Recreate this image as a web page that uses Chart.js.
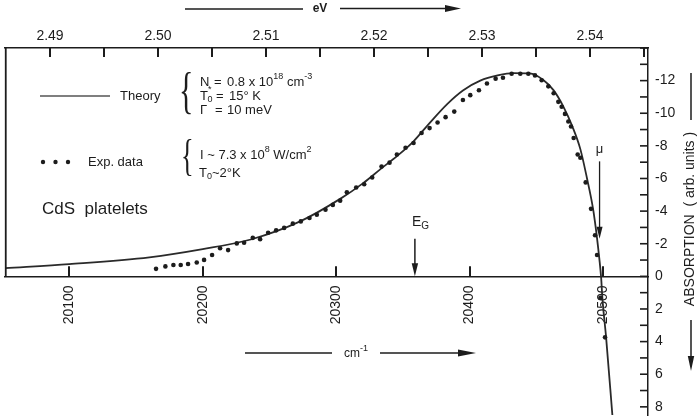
<!DOCTYPE html>
<html><head><meta charset="utf-8">
<script src="https://cdn.jsdelivr.net/npm/chart.js@4.4.1/dist/chart.umd.min.js"></script>
<style>html,body{margin:0;padding:0;background:#fff;}#wrap{width:700px;height:419px;}</style>
</head><body><div id="wrap"><canvas id="c" width="700" height="419"></canvas></div>
<script>
// ---- data ----
const theoryX = [20052,20100,20160,20200,20236,20273,20303,20320,20333,20346,20358,20370,20383,20395,20408,20421,20433,20445,20455,20463,20470,20477,20483,20488,20492.5,20495.5,20497.2,20498.6,20499.5,20502.3,20507];
const theoryY = [-0.50,-0.75,-1.17,-1.67,-2.26,-3.37,-4.75,-5.70,-6.56,-7.40,-8.28,-9.40,-10.55,-11.40,-12.00,-12.32,-12.46,-12.44,-12.05,-11.40,-10.45,-9.19,-7.80,-6.00,-4.15,-2.35,-1.10,0.10,1.32,3.74,8.50];
const expX = [20165,20172,20178,20183.5,20189,20195.5,20201,20207,20213,20219,20225.5,20231,20237.5,20243,20249,20255,20261,20267.5,20273.5,20280,20285.5,20292,20297.5,20303,20308,20315,20321,20327,20334,20340,20345.5,20352,20358,20364,20370,20376,20382,20388.5,20395,20400.5,20407,20413,20419.5,20425,20431.5,20438,20444,20449,20454,20459,20463,20466.5,20469,20471.5,20474,20476,20478,20481,20483,20487,20491,20494,20495.5,20498,20501.5];
const expY = [-0.46,-0.61,-0.70,-0.70,-0.76,-0.85,-1.01,-1.31,-1.72,-1.61,-2.02,-2.06,-2.36,-2.28,-2.67,-2.82,-2.97,-3.23,-3.37,-3.58,-3.78,-4.08,-4.38,-4.64,-5.15,-5.45,-5.65,-6.06,-6.73,-6.97,-7.47,-7.88,-8.18,-8.79,-9.09,-9.43,-9.76,-10.10,-10.81,-11.11,-11.41,-11.82,-12.12,-12.18,-12.42,-12.42,-12.42,-12.32,-12.02,-11.65,-11.23,-10.70,-10.40,-9.96,-9.49,-9.19,-8.48,-7.47,-7.27,-5.76,-4.14,-2.52,-1.31,1.32,3.74];
const cmTickValues = [20100,20200,20300,20400,20500];
const evTickValues = [2.49,2.495,2.50,2.505,2.51,2.515,2.52,2.525,2.53,2.535,2.54,2.545];
const absTickValues = [-14,-13,-12,-11,-10,-9,-8,-7,-6,-5,-4,-3,-2,-1,0,1,2,3,4,5,6,7,8];
const X_MIN = 20051.8, X_MAX = 20533.7;
const EV_MIN = 2.48583, EV_MAX = 2.54537;
const Y_MIN = -14, Y_MAX = 8.5;
// annotation markers (E_G and mu arrows)
const egAt = 20359, egFrom = -2.3, egTo = 0;
const muAt = 20497.4, muFrom = -7.05, muTo = -2.3;

const FONT = '"Liberation Sans", Arial, Helvetica, sans-serif';
const INK = '#1c1c1c';

function zeroPad(s){ s.paddingLeft = 0; s.paddingRight = 0; s.paddingTop = 0; s.paddingBottom = 0; }

function line(ctx,x1,y1,x2,y2){ ctx.beginPath(); ctx.moveTo(x1,y1); ctx.lineTo(x2,y2); ctx.stroke(); }
function headRight(ctx,x,y,len,half){ ctx.beginPath(); ctx.moveTo(x,y); ctx.lineTo(x-len,y-half); ctx.lineTo(x-len,y+half); ctx.closePath(); ctx.fill(); }
function headDown(ctx,x,y,len,half){ ctx.beginPath(); ctx.moveTo(x,y); ctx.lineTo(x-half,y-len); ctx.lineTo(x+half,y-len); ctx.closePath(); ctx.fill(); }
function rich(ctx,x,y,parts,size){
  for (const [t,m] of parts){
    const s = m==='n' ? size : Math.round(size*0.72);
    const dy = m==='sup' ? -size*0.42 : (m==='sub' ? size*0.3 : 0);
    ctx.font = s+'px '+FONT;
    ctx.fillText(t,x,y+dy);
    x += ctx.measureText(t).width;
  }
  return x;
}
function brace(ctx,x,cy,size){
  ctx.save();
  ctx.font = '300 '+size+'px "Liberation Serif", "Times New Roman", serif';
  ctx.textBaseline = 'alphabetic';
  ctx.translate(x,cy+size*0.25);
  ctx.scale(0.6,1);
  ctx.fillText('{',0,0);
  ctx.restore();
}

const decor = {
  id:'decor',
  afterDraw(chart){
    const ctx = chart.ctx, xs = chart.scales.x, xt = chart.scales.xTop, ys = chart.scales.y, ca = chart.chartArea;
    ctx.save();
    ctx.strokeStyle = INK; ctx.fillStyle = INK; ctx.lineWidth = 1.8;
    ctx.textBaseline = 'middle'; ctx.textAlign = 'left';
    const y0 = ys.getPixelForValue(0);
    // left frame down to zero line
    line(ctx, ca.left+0.75, ca.top, ca.left+0.75, y0);
    // inward tick marks of the three axes
    ctx.lineWidth = 2;
    for (const v of cmTickValues) { const p = Math.round(xs.getPixelForValue(v)); line(ctx, p, y0, p, y0-10); }
    for (const v of evTickValues) { const p = Math.round(xt.getPixelForValue(v)); line(ctx, p, ca.top, p, ca.top+9); }
    ctx.lineWidth = 1.6;
    for (const v of absTickValues) { const p = ys.getPixelForValue(v); line(ctx, ca.right, p, ca.right-8, p); }

    // E_G arrow
    ctx.lineWidth = 1.5;
    const ex = xs.getPixelForValue(egAt);
    line(ctx, ex, ys.getPixelForValue(egFrom), ex, ys.getPixelForValue(egTo)-10);
    headDown(ctx, ex, ys.getPixelForValue(egTo), 13, 3.2);
    rich(ctx, ex-3, ys.getPixelForValue(egFrom)-17, [['E','n'],['G','sub']], 14);
    // mu arrow
    const mx = xs.getPixelForValue(muAt);
    ctx.lineWidth = 1.3;
    line(ctx, mx, ys.getPixelForValue(muFrom), mx, ys.getPixelForValue(muTo)-10);
    headDown(ctx, mx, ys.getPixelForValue(muTo), 12, 3);
    ctx.font = '13px '+FONT; ctx.textAlign='center';
    ctx.fillText('\u03bc', mx, ys.getPixelForValue(muFrom)-12);
    ctx.textAlign='left';

    // legend block
    ctx.strokeStyle = '#555'; ctx.lineWidth = 1.5;
    line(ctx, 40, 96, 110, 96);
    ctx.fillStyle = INK;
    ctx.font = '13px '+FONT; ctx.fillText('Theory', 120, 96);
    brace(ctx, 179, 94, 50);
    ctx.font = '13px '+FONT;
    ctx.fillText('N', 200, 82); ctx.fillText('=', 214, 82);
    rich(ctx, 227, 82, [['0.8 x 10','n'],['18','sup'],[' cm','n'],['-3','sup']], 13);
    ctx.font = '13px '+FONT;
    ctx.fillText('T', 200, 96);
    ctx.font = '9px '+FONT; ctx.fillText('0', 207.5, 100); ctx.fillText('*', 208, 90);
    ctx.font = '13px '+FONT; ctx.fillText('=', 216, 96);
    ctx.fillText('15\u00b0 K', 229, 96);
    ctx.fillText('\u0393', 200, 110); ctx.fillText('=', 215, 110);
    ctx.fillText('10 meV', 227, 110);

    for (const dx of [43,55.5,68]) { ctx.beginPath(); ctx.arc(dx,162,2.2,0,Math.PI*2); ctx.fill(); }
    ctx.font = '13px '+FONT; ctx.fillText('Exp. data', 88, 162);
    brace(ctx, 181, 159, 44);
    rich(ctx, 200, 155, [['I ~ 7.3 x 10','n'],['8','sup'],[' W/cm','n'],['2','sup']], 13);
    rich(ctx, 199, 173, [['T','n'],['0','sub'],['~2\u00b0K','n']], 13);

    ctx.font = '17px '+FONT; ctx.fillText('CdS  platelets', 42, 209);

    // top title eV with arrow
    ctx.lineWidth = 1.5; ctx.strokeStyle = INK;
    line(ctx, 185, 9, 303, 9);
    ctx.font = 'bold 12px '+FONT; ctx.textAlign='center'; ctx.fillText('eV', 320, 9);
    line(ctx, 340, 8.5, 450, 8.5); headRight(ctx, 461, 8.5, 16, 3.5);
    // bottom title cm-1 with arrow
    line(ctx, 245, 353, 332, 353);
    ctx.textAlign='left';
    rich(ctx, 344, 354, [['cm','n'],['-1','sup']], 12);
    line(ctx, 380, 353, 465, 353); headRight(ctx, 476, 353, 18, 3.5);
    // right title
    line(ctx, 691, 73, 691, 120);
    ctx.save(); ctx.translate(690, 219); ctx.rotate(-Math.PI/2);
    ctx.font = '14px '+FONT; ctx.textAlign='center'; ctx.fillText('ABSORPTION  ( arb. units )', 0, 0);
    ctx.restore();
    line(ctx, 691, 320, 691, 358); headDown(ctx, 691, 371, 15, 3.2);
    ctx.restore();
  }
};

const tickFont = {family: FONT, size: 14};
new Chart(document.getElementById('c'), {
  type: 'scatter',
  data: { datasets: [
    { label:'Theory', data: theoryX.map((x,i)=>({x, y: theoryY[i]})), showLine:true, borderColor:'#2a2a2a', borderWidth:1.8,
      pointRadius:0, cubicInterpolationMode:'monotone', xAxisID:'x', yAxisID:'y', order:1 },
    { label:'Exp. data', data: expX.map((x,i)=>({x, y: expY[i]})), showLine:false, pointRadius:2.3, pointBackgroundColor:INK,
      pointBorderWidth:0, xAxisID:'x', yAxisID:'y', order:0 }
  ]},
  options: {
    responsive:false, animation:false, devicePixelRatio:1,
    layout:{ padding:{left:5, right:0, top:0, bottom:0} },
    plugins:{ legend:{display:false}, tooltip:{enabled:false} },
    scales:{
      x:{ type:'linear', min:X_MIN, max:X_MAX, position:{y:0},
        afterBuildTicks: s => { s.ticks = cmTickValues.map(v=>({value:v})); },
        afterFit: zeroPad,
        ticks:{ autoSkip:false, includeBounds:false, minRotation:90, maxRotation:90, padding:9, font:tickFont, color:INK,
          callback: v => String(v) },
        grid:{ drawOnChartArea:false, drawTicks:false },
        border:{ color:INK, width:1.5 } },
      xTop:{ type:'linear', axis:'x', position:'top', min:EV_MIN, max:EV_MAX,
        afterBuildTicks: s => { s.ticks = evTickValues.map(v=>({value:v})); },
        afterFit: s => { zeroPad(s); s.height = 48; },
        ticks:{ autoSkip:false, includeBounds:false, maxRotation:0, padding:3, font:tickFont, color:INK,
          callback: v => Math.abs(v*100 - Math.round(v*100)) < 1e-6 ? v.toFixed(2) : '' },
        grid:{ drawOnChartArea:false, drawTicks:false },
        border:{ color:INK, width:1.5 } },
      y:{ type:'linear', position:'right', reverse:true, min:Y_MIN, max:Y_MAX,
        afterBuildTicks: s => { s.ticks = absTickValues.map(v=>({value:v})); },
        afterFit: s => { zeroPad(s); s.width = 52; },
        ticks:{ autoSkip:false, includeBounds:false, padding:7, font:tickFont, color:INK,
          callback: v => (v % 2 === 0 && v > Y_MIN) ? String(v) : '' },
        grid:{ drawOnChartArea:false, drawTicks:false },
        border:{ color:INK, width:1.5 } }
    }
  },
  plugins:[decor]
});
</script></body></html>
